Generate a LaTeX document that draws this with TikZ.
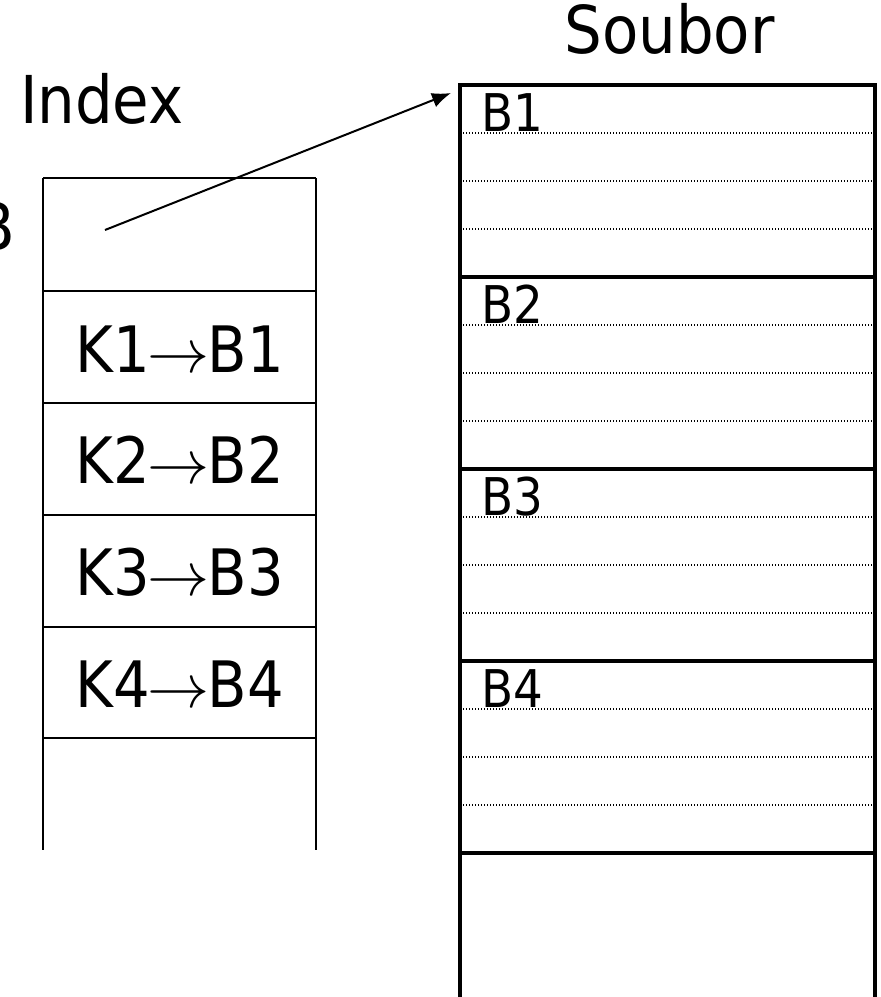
\documentclass[tikz,border=0pt]{standalone}
\usepackage{graphicx}
\usepackage{fontspec}
\setmainfont{DejaVu Sans Condensed}
\usetikzlibrary{arrows.meta}
\tikzset{
  big/.style={font=\fontsize{66}{70}\selectfont, inner sep=0pt, outer sep=0pt},
  entry/.style={font=\fontsize{64}{68}\selectfont, inner sep=0pt, outer sep=0pt},
  small/.style={font=\fontsize{52}{56}\selectfont, inner sep=0pt, outer sep=0pt},
  thinline/.style={line width=1.8pt, line cap=butt},
  thickline/.style={line width=3.6pt, line cap=butt},
  dotline/.style={line width=1.4pt, dash pattern=on 1.4pt off 1.6pt},
  link/.style={line width=2pt, -{Latex[length=19pt,width=15pt]}}
}
\newcommand{\kb}[2]{K#1\kern-2pt\scalebox{6.2}{\normalsize$\rightarrow$}\kern-2ptB#2}
\begin{document}
\begin{tikzpicture}[x=1pt,y=-1pt]
\useasboundingbox (0,0) rectangle (881,997);
% titles
\node[big, anchor=base west] (tindex) at (20,123) {Index};
\node[big, anchor=base] (tsoubor) at (669.5,53) {Soubor};
\node[big, anchor=base east] (bcut) at (15,250) {B};
% index table
\draw[thinline] (43,178) -- (43,850);
\draw[thinline] (316,178) -- (316,850);
\foreach \y in {178,291,403,515,627,738} \draw[thinline] (43,\y) -- (316,\y);
\node[entry, anchor=base] (k1) at (179.5,372) {\kb{1}{1}};
\node[entry, anchor=base] (k2) at (179.5,483) {\kb{2}{2}};
\node[entry, anchor=base] (k3) at (179.5,595) {\kb{3}{3}};
\node[entry, anchor=base] (k4) at (179.5,707) {\kb{4}{4}};
% file
\foreach \b in {0,1,2,3} {
  \foreach \d in {48,96,144} \draw[dotline] (463,85+192*\b+\d) -- (873,85+192*\b+\d);
}
\draw[thickline] (460,997) -- (460,85) -- (875,85) -- (875,997);
\foreach \y in {277,469,661,853} \draw[thickline] (460,\y) -- (875,\y);
\node[small, anchor=base west] (b1) at (481,131) {B1};
\node[small, anchor=base west] (b2) at (481,323) {B2};
\node[small, anchor=base west] (b3) at (481,515) {B3};
\node[small, anchor=base west] (b4) at (481,707) {B4};
% pointer
\coordinate (src) at (105,230);
\coordinate (dst) at (451,93);
\draw[link] (src) -- (dst);
\end{tikzpicture}
\end{document}
